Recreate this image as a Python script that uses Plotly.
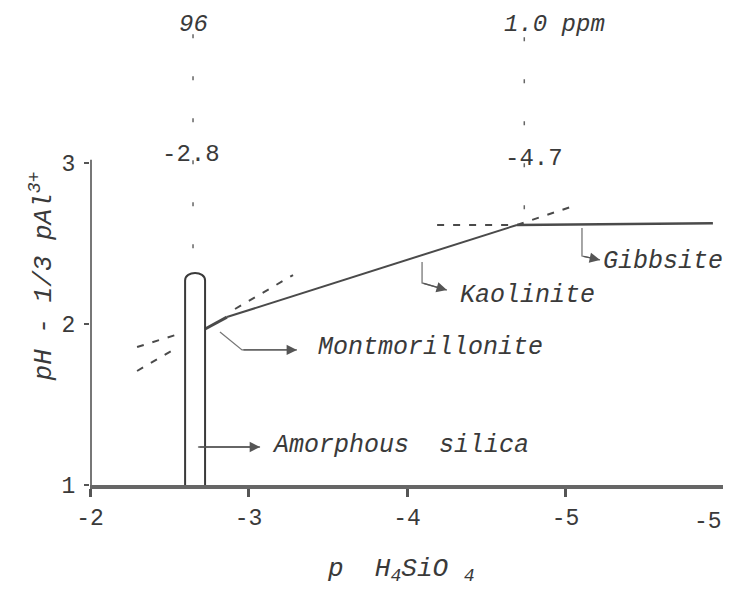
import plotly.graph_objects as go

# ---- data (x = p H4SiO4, y = pH - 1/3 pAl3+) ----
x_ticks = [2, 3, 4, 5, 6]
x_ticktext = ["-2", "-3", "-4", "-5", "-5"]
y_ticks = [1, 2, 3]
y_ticktext = ["1", "2", "3"]

silica_left_x = 2.60
silica_right_x = 2.726
silica_top_y = 2.32

mont_x = [2.726, 2.864]
mont_y = [1.969, 2.043]
kaol_x = [2.864, 4.694]
kaol_y = [2.043, 2.615]
gibb_x = [4.694, 5.93]
gibb_y = [2.615, 2.625]

dash_segments = [
    ([2.915, 3.281], [2.093, 2.304]),   # montmorillonite extension
    ([2.297, 2.580], [1.857, 1.944]),   # left upper
    ([2.297, 2.555], [1.708, 1.857]),   # left lower
    ([4.19, 4.694], [2.615, 2.615]),    # gibbsite extension
    ([4.694, 5.07], [2.615, 2.739]),    # kaolinite extension
]

vert_x = [2.65, 4.74]
vert_y_top = [3.80, 3.78]
vert_y_bot = [2.33, 2.62]

# label connectors: polyline points, arrow tip is last point
connectors = {
    "Gibbsite": ([5.104, 5.104, 5.218], [2.596, 2.422, 2.398]),
    "Kaolinite": ([4.095, 4.095, 4.252], [2.385, 2.255, 2.211]),
    "Montmorillonite": ([2.82, 2.959, 3.306], [1.950, 1.839, 1.839]),
    "Amorphous  silica": ([2.681, 3.073], [1.236, 1.236]),
}
labels = {
    "Gibbsite": (5.225, 2.385),
    "Kaolinite": (4.322, 2.174),
    "Montmorillonite": (3.426, 1.857),
    "Amorphous  silica": (3.136, 1.248),
}

FONT = "Liberation Mono"
INK = "#3a3a3a"

fig = go.Figure()

# main boundaries
for xs, ys, w in [(mont_x, mont_y, 3), (kaol_x, kaol_y, 2), (gibb_x, gibb_y, 2.5)]:
    fig.add_trace(go.Scatter(x=xs, y=ys, mode="lines",
                             line=dict(color="#4a4a4a", width=w), hoverinfo="skip"))

# dashed extensions
for xs, ys in dash_segments:
    fig.add_trace(go.Scatter(x=xs, y=ys, mode="lines",
                             line=dict(color="#4a4a4a", width=2, dash="7px,9px"),
                             hoverinfo="skip"))

# vertical dashed marker lines
for vx, yt, yb in zip(vert_x, vert_y_top, vert_y_bot):
    fig.add_trace(go.Scatter(x=[vx, vx], y=[yt, yb], mode="lines",
                             line=dict(color="#666", width=1.5, dash="4px,38px"),
                             hoverinfo="skip"))

# connectors
for name, (xs, ys) in connectors.items():
    fig.add_trace(go.Scatter(x=xs, y=ys, mode="lines",
                             line=dict(color="#777", width=1.3), hoverinfo="skip"))
    fig.add_annotation(x=xs[-1], y=ys[-1], ax=xs[-2], ay=ys[-2],
                       xref="x", yref="y", axref="x", ayref="y",
                       text="", showarrow=True, arrowhead=2, arrowsize=1.6,
                       arrowwidth=1.3, arrowcolor="#555")
    lx, ly = labels[name]
    fig.add_annotation(x=lx, y=ly, xref="x", yref="y", text=name,
                       showarrow=False, xanchor="left", yanchor="middle",
                       font=dict(family=FONT, size=25, color=INK, style="italic"))

# amorphous silica column (rounded top)
fig.add_shape(type="path", xref="x", yref="y",
              path=(f"M {silica_left_x},1 L {silica_left_x},{silica_top_y - 0.05} "
                    f"C {silica_left_x},{silica_top_y + 0.012} {silica_right_x},{silica_top_y + 0.012} "
                    f"{silica_right_x},{silica_top_y - 0.05} L {silica_right_x},1"),
              line=dict(color="#3a3a3a", width=2))

# y axis line
fig.add_shape(type="line", xref="x", yref="y", x0=2, x1=2, y0=1, y1=3.02,
              line=dict(color="#777", width=4))

# top texts
fig.add_annotation(x=2.65, y=3.86, xref="x", yref="y", text="96", showarrow=False,
                   font=dict(family=FONT, size=24, color=INK, style="italic"))
fig.add_annotation(x=4.60, y=3.86, xref="x", yref="y", text="1.0 ppm", showarrow=False,
                   xanchor="left", font=dict(family=FONT, size=24, color=INK, style="italic"))
fig.add_annotation(x=2.64, y=3.05, xref="x", yref="y", text="-2.8", showarrow=False,
                   font=dict(family=FONT, size=24, color=INK))
fig.add_annotation(x=4.80, y=3.03, xref="x", yref="y", text="-4.7", showarrow=False,
                   font=dict(family=FONT, size=24, color=INK))

# last tick label at the right edge
fig.add_annotation(x=5.90, y=-0.078, xref="x", yref="paper", text=x_ticktext[-1],
                   showarrow=False, xanchor="center", yanchor="middle",
                   font=dict(family=FONT, size=23, color=INK))

# axis titles
fig.add_annotation(x=-0.075, y=0.44, xref="paper", yref="paper",
                   xanchor="center", yanchor="middle",
                   text="pH - 1/3 pAl<sup>3+</sup>", showarrow=False, textangle=-90,
                   font=dict(family=FONT, size=26, color=INK, style="italic"))
fig.add_annotation(x=0.49, y=-0.178, xref="paper", yref="paper",
                   xanchor="center", yanchor="middle",
                   text="p  H<sub>4</sub>SiO <sub>4</sub>", showarrow=False,
                   font=dict(family=FONT, size=26, color=INK, style="italic"))

# page body has an 8px margin, so the figure is laid out 8px smaller
fig.update_layout(
    width=723, height=583,
    margin=dict(l=82, r=7, t=2, b=106),
    paper_bgcolor="white", plot_bgcolor="white",
    showlegend=False,
    xaxis=dict(range=[2, 6], tickvals=x_ticks, ticktext=x_ticktext,
               showgrid=False, zeroline=False, showline=True, linewidth=4,
               linecolor="#666", ticks="outside", ticklen=8, tickwidth=3,
               tickcolor="#555",
               tickfont=dict(family=FONT, size=23, color=INK)),
    yaxis=dict(range=[1, 3.95], tickvals=y_ticks, ticktext=y_ticktext,
               showgrid=False, zeroline=False, showline=False,
               ticks="outside", ticklen=5, tickwidth=2, tickcolor="#555",
               ticklabelstandoff=4,
               tickfont=dict(family=FONT, size=23, color=INK)),
)

fig.write_html("out.html")
